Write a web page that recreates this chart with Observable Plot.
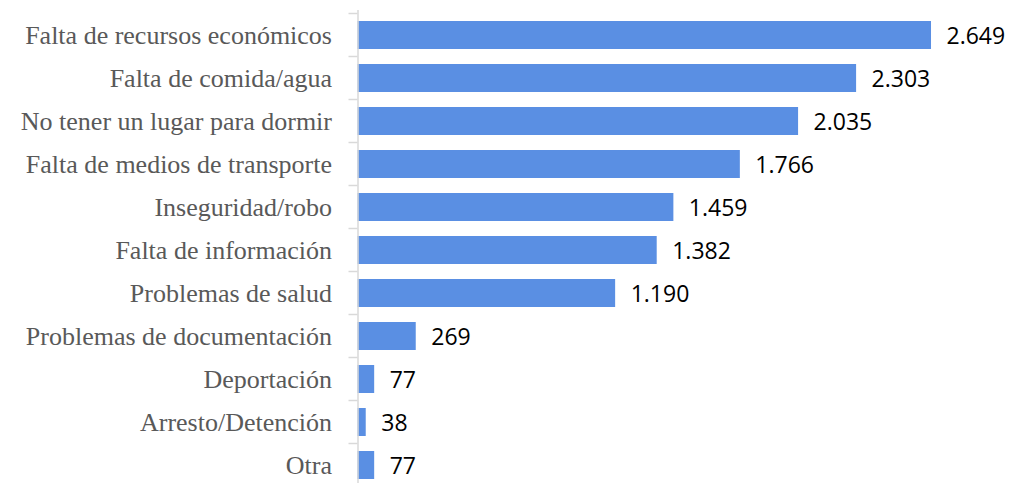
<!DOCTYPE html>
<html>
<head>
<meta charset="utf-8">
<script src="https://cdn.jsdelivr.net/npm/d3@7"></script>
<script src="https://cdn.jsdelivr.net/npm/@observablehq/plot@0.6"></script>
<style>
  html, body { margin: 0; padding: 0; background: #fff; }
</style>
</head>
<body>
<div id="chart"></div>
<script>
const categories = [
  "Falta de recursos económicos",
  "Falta de comida/agua",
  "No tener un lugar para dormir",
  "Falta de medios de transporte",
  "Inseguridad/robo",
  "Falta de información",
  "Problemas de salud",
  "Problemas de documentación",
  "Deportación",
  "Arresto/Detención",
  "Otra"
];
const values = [2649, 2303, 2035, 1766, 1459, 1382, 1190, 269, 77, 38, 77];

const data = categories.map((c, i) => ({category: c, value: values[i]}));
const fmt = d3.formatLocale({decimal: ",", thousands: ".", grouping: [3]}).format(",d");

const chart = Plot.plot({
  width: 1015,
  height: 483,
  marginTop: 10,
  marginBottom: -6,
  marginLeft: 357.5,
  marginRight: 8,
  x: {domain: [0, 3000], axis: null},
  y: {domain: categories, paddingInner: 0.356, paddingOuter: 0.178, label: null},
  style: {background: "#fff"},
  marks: [
    Plot.barX(data, {y: "category", x: "value", fill: "#5a8fe3"}),
    Plot.text(data, {
      y: "category", x: "value", text: d => fmt(d.value),
      dx: 15, dy: 1.5, textAnchor: "start", fill: "#000",
      fontSize: 23, fontFamily: "Open Sans"
    }),
    Plot.axisY({
      tickSize: 0, tickPadding: 26, fontSize: 26,
      fontFamily: "Liberation Serif", color: "#595959"
    }),
    Plot.ruleX([0], {stroke: "#d9d9d9", strokeWidth: 1.5})
  ]
});

// band boundary tick marks on the axis, placed with the chart's own y scale
const ys = chart.scale("y");
const yscale = Plot.scale({y: ys});
const xscale = Plot.scale({x: chart.scale("x")});
const x0 = xscale.apply(0);
const bounds = categories.map(c => yscale.apply(c) - (ys.step - ys.bandwidth) / 2);
bounds.push(bounds[bounds.length - 1] + ys.step);
d3.select(chart).append("g")
  .selectAll("line").data(bounds).join("line")
  .attr("x1", x0 - 9).attr("x2", x0)
  .attr("y1", d => d).attr("y2", d => d)
  .attr("stroke", "#d9d9d9").attr("stroke-width", 1.5);

d3.select(chart).selectAll("g[aria-label='y-axis tick label']")
  .style("font-family", "Liberation Serif");

document.getElementById("chart").appendChild(chart);
</script>
</body>
</html>
